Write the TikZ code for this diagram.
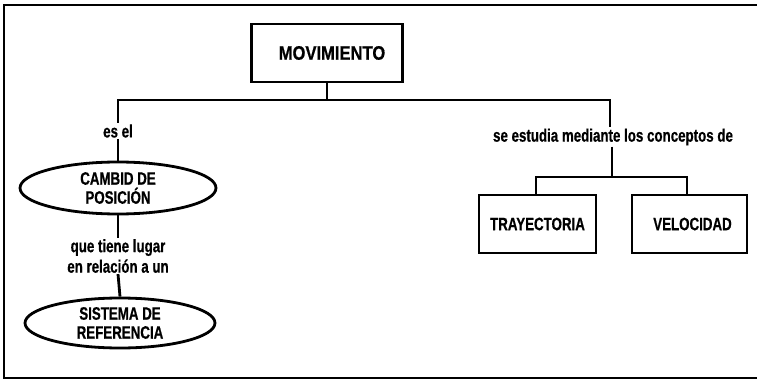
\documentclass[tikz,border=0pt]{standalone}
\usepackage{fontspec}
\setmainfont[FakeStretch=0.74,FakeBold=0.6]{Liberation Sans}
\newfontfamily\movfont[FakeStretch=0.85,FakeBold=0.6]{Liberation Sans}
\usetikzlibrary{shapes.geometric}
\begin{document}
\begin{tikzpicture}[x=1pt,y=-1pt,
  conn/.style={line width=2.8pt},
  boxnode/.style={draw,line width=2.8pt,rectangle,inner sep=0pt,font=\bfseries\fontsize{18}{21}\selectfont},
  ellnode/.style={draw,line width=2.8pt,ellipse,inner sep=0pt,align=center,font=\bfseries\fontsize{18}{19}\selectfont},
  lbl/.style={inner sep=1pt,align=center,font=\bfseries\fontsize{18}{20.5}\selectfont}]
\useasboundingbox (0,0) rectangle (757,382);
% frame
\draw[line width=2pt] (757,5) -- (4,5) -- (4,378) -- (757,378);
% nodes
\node[boxnode,minimum width=151pt,minimum height=58pt,font=\movfont\bfseries\fontsize{19.5}{22}\selectfont] (mov) at (327,53) {\hspace*{10pt}MOVIMIENTO};
\node[ellnode,minimum width=196pt,minimum height=52pt] (ell1) at (118,188) {CAMBID DE\\POSICIÓN};
\node[ellnode,minimum width=190pt,minimum height=50pt] (ell2) at (120,323) {SISTEMA DE\\REFERENCIA};
\node[boxnode,minimum width=117pt,minimum height=58pt] (tray) at (537.5,224) {TRAYECTORIA};
\node[boxnode,minimum width=115pt,minimum height=58pt] (vel) at (689.5,224) {\hspace*{6pt}VELOCIDAD};
% labels
\node[lbl] (esel) at (118,131) {es el};
\node[lbl] (que) at (118,256) {que tiene lugar\\en relación a un};
\node[lbl] (se) at (613,137) {se estudia mediante los conceptos de};
% junctions
\coordinate (jm) at (327,100);
\coordinate (jl) at (118,100);
\coordinate (jr) at (610,100);
\coordinate (sm) at (612,177);
\coordinate (tl) at (536,177);
\coordinate (tr) at (687,177);
% connectors
\draw[conn] (mov.south) -- (jm);
\draw[conn,line cap=rect] (jl) -- (jr);
\draw[conn] (jl) -- (esel.north);
\draw[conn] (esel.south) -- (ell1.north);
\draw[conn] (ell1.south) -- (que.north);
\draw[conn] (que.south) -- (ell2.north);
\draw[conn] (jr) -- (jr |- se.north);
\draw[conn] (se.south -| sm) -- (sm);
\draw[conn,line cap=rect] (tl) -- (tr);
\draw[conn] (tl) -- (tl |- tray.north);
\draw[conn] (tr) -- (tr |- vel.north);
\end{tikzpicture}
\end{document}
